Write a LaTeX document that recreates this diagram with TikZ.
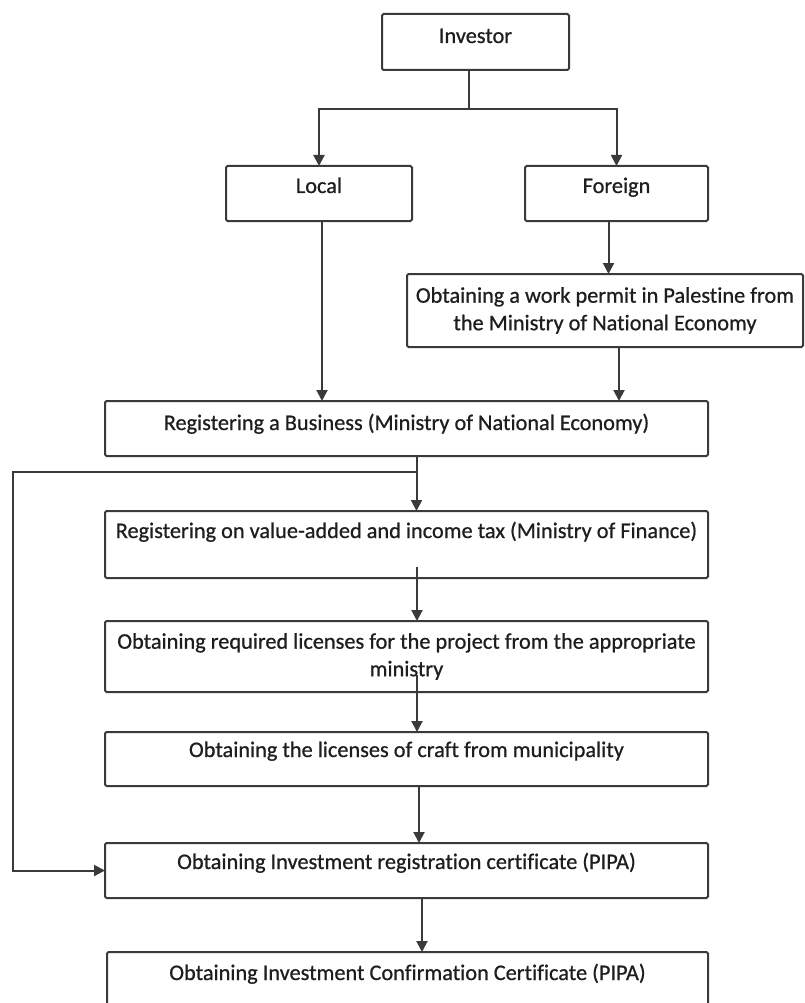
\documentclass[tikz,border=0pt]{standalone}
\usepackage{fontspec}
\setmainfont{Carlito}[Ligatures=NoCommon, BoldFont=Carlito, BoldFeatures={FakeBold=0.7}]
\usetikzlibrary{arrows.meta,calc}
\definecolor{linec}{HTML}{3A3A3A}
\definecolor{textc}{HTML}{1E1E1E}
\tikzset{
  box/.style={draw=linec, line width=2pt, rounded corners=1.5pt, inner xsep=0pt, inner ysep=0pt, outer sep=0pt,
    font=\fontsize{22.3}{27.5}\selectfont\bfseries, text=textc, anchor=north west},
  mbox/.style={box, align=center},
  ln/.style={draw=linec, line width=2pt},
  arr/.style={draw=linec, line width=2pt, -{Triangle[length=11pt,width=11pt]}},
}
\begin{document}
\begin{tikzpicture}[x=1pt,y=-1pt]
\fill[white] (0,0) rectangle (805,1003);
\useasboundingbox (0,0) rectangle (805,1003);
% boxes
\node[box, minimum width=187pt, text height=29pt, text depth=27pt] (inv) at (382,14) {Investor};
\node[box, minimum width=186pt, text height=27pt, text depth=28pt] (loc) at (226,166) {Local};
\node[box, minimum width=183pt, text height=27pt, text depth=28pt] (for) at (525,166) {Foreign};
\node[mbox, minimum width=396pt, minimum height=73pt] (perm) at (407,274) {Obtaining a work permit in Palestine from\\ the Ministry of National Economy};
\node[box, minimum width=603pt, text height=29pt, text depth=26pt] (biz) at (105,401) {Registering a Business (Ministry of National Economy)};
\node[box, minimum width=603pt, text height=27pt, text depth=40pt] (tax) at (105,511) {Registering on value-added and income tax (Ministry of Finance)};
\node[mbox, minimum width=603pt, minimum height=71pt] (lic) at (105,621) {Obtaining required licenses for the project from the appropriate\\ ministry};
\node[box, minimum width=603pt, text height=25pt, text depth=29pt] (craft) at (105,732) {Obtaining the licenses of craft from municipality};
\node[box, minimum width=603pt, text height=26pt, text depth=29pt] (pipa) at (105,843) {Obtaining Investment registration certificate (PIPA)};
\node[box, minimum width=601pt, text height=28pt, text depth=36pt] (conf) at (107,952) {Obtaining Investment Confirmation Certificate (PIPA)};
% junctions
\coordinate (J) at (469,109);
\coordinate (B) at (13,472);
% connectors
\draw[ln] (J |- inv.south) -- (J);
\draw[arr] (J) -| (loc.north);
\draw[arr] (J) -| (for.north);
\draw[arr] ([xshift=3pt]loc.south) -- ([xshift=3pt]loc.south |- biz.north);
\draw[arr] ([xshift=-8pt]for.south) -- ([xshift=-8pt]for.south |- perm.north);
\draw[arr] ([xshift=14pt]perm.south) -- ([xshift=14pt]perm.south |- biz.north);
\draw[arr] ([xshift=10pt]biz.south) -- ([xshift=10pt]biz.south |- tax.north);
\draw[arr] ([xshift=10pt]biz.south |- B) -- (B) |- (pipa.west);
\draw[arr] ([xshift=10.5pt,yshift=11pt]tax.south) -- ([xshift=10.5pt]tax.south |- lic.north);
\draw[arr] ([xshift=10.5pt,yshift=17pt]lic.south) -- ([xshift=10.5pt]lic.south |- craft.north);
\draw[arr] ([xshift=12.5pt]craft.south) -- ([xshift=12.5pt]craft.south |- pipa.north);
\draw[arr] ([xshift=15.5pt]pipa.south) -- ([xshift=15.5pt]pipa.south |- conf.north);
\end{tikzpicture}
\end{document}
